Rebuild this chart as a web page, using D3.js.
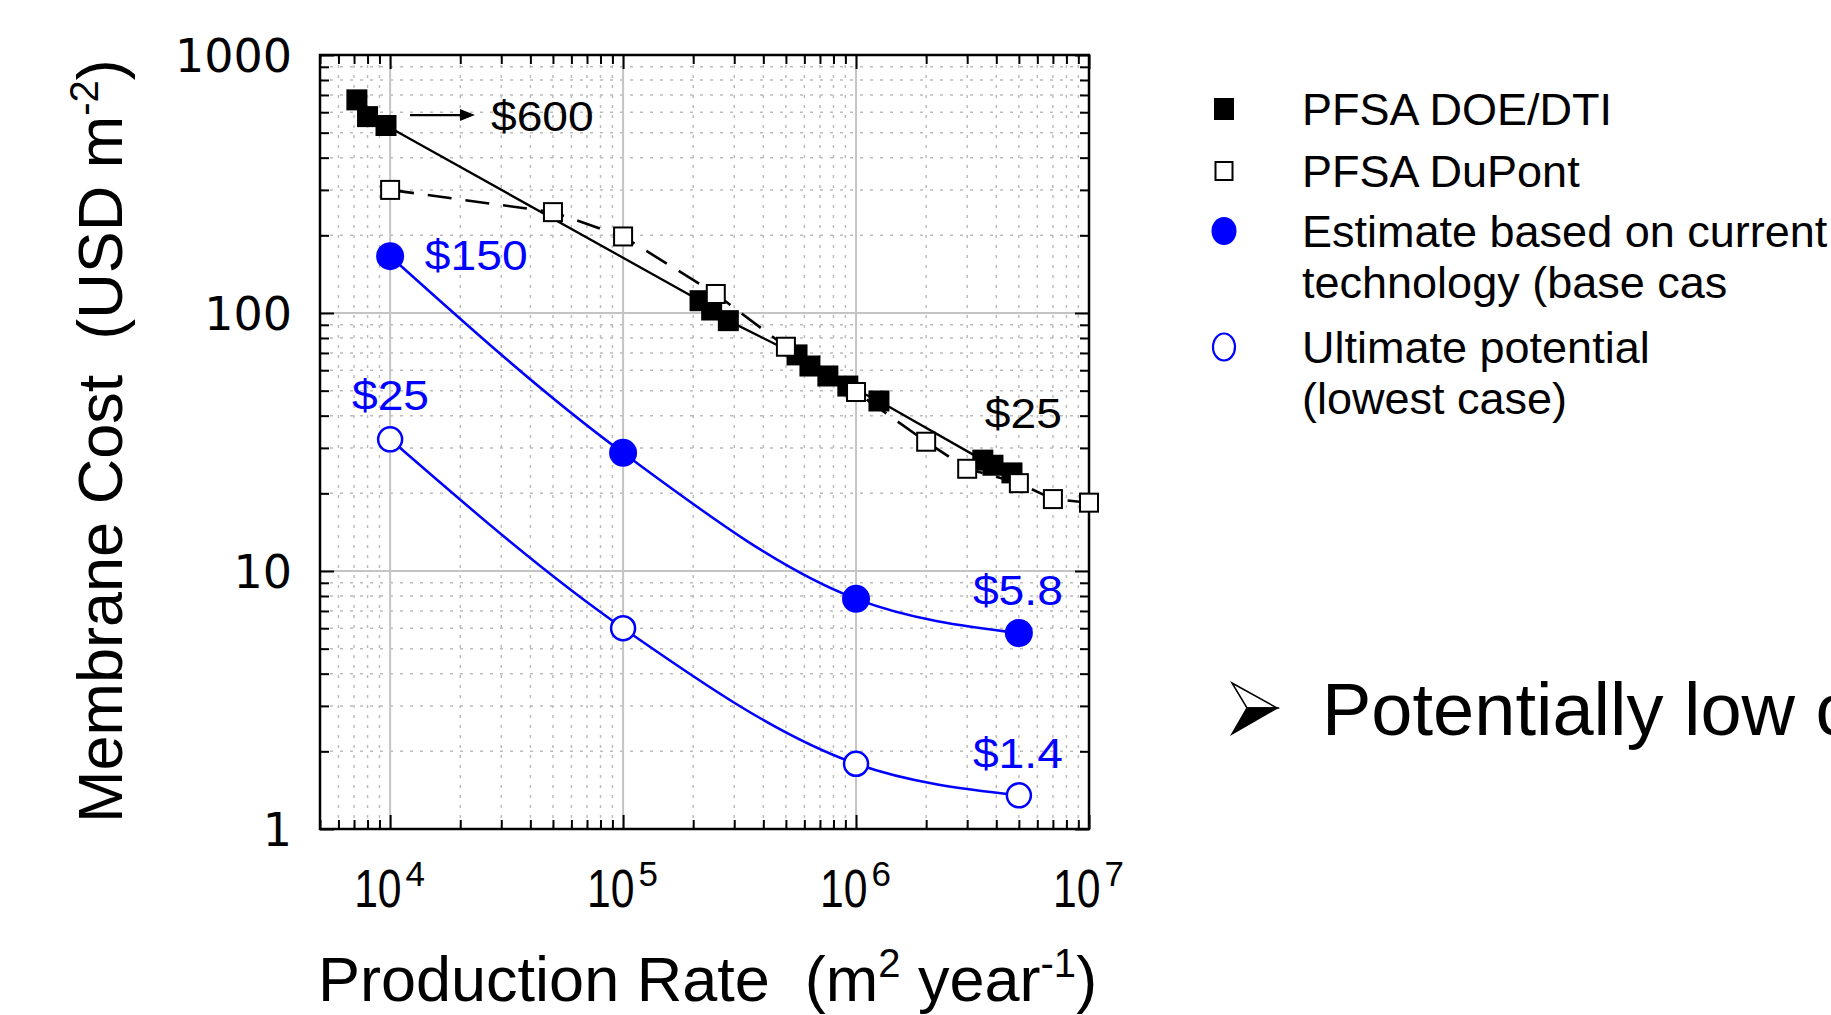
<!DOCTYPE html>
<html><head><meta charset="utf-8">
<script src="https://cdn.jsdelivr.net/npm/d3@7"></script>
<style>
html,body{margin:0;padding:0;background:#fff;overflow:hidden}
svg{display:block}
text{font-family:"Liberation Sans",Arial,sans-serif;white-space:pre}
</style></head><body>
<svg id="chart" width="1831" height="1015"></svg>
<script>
// ---------------- data ----------------
const xMajorTicks = [1e4, 1e5, 1e6, 1e7];
const xTickBase = "10";
const xTickExponents = ["4", "5", "6", "7"];
const yMajorTicks = [1, 10, 100, 1000];
const yTickLabels = ["1", "10", "100", "1000"];

// PFSA DOE/DTI (filled squares)
const doeRate = [7200, 8000, 9600, 214000, 240000, 283000, 558000, 634000, 757000, 922000, 1254000, 3500000, 3870000, 4670000];
const doeCost = [670, 577, 533, 111.6, 102.7, 93.4, 68.8, 62.3, 57.0, 52.1, 45.6, 26.9, 25.7, 24.0];

// PFSA DuPont (open squares)
const dupontRate = [1e4, 5e4, 1e5, 2.5e5, 5e5, 1e6, 2e6, 3e6, 5e6, 7e6, 1e7];
const dupontCost = [300, 246, 198, 118.5, 74, 49.4, 31.7, 24.9, 21.9, 19.0, 18.4];

// Estimate based on current technology (filled blue circles)
const estimateRate = [1e4, 1e5, 1e6, 5e6];
const estimateCost = [166, 28.7, 7.8, 5.75];

// Ultimate potential (open blue circles)
const ultimateRate = [1e4, 1e5, 1e6, 5e6];
const ultimateCost = [32.4, 6.0, 1.79, 1.35];

// annotation labels: text, data-anchor (left edge, baseline), colour key
const noteTexts = ["$600", "$150", "$25", "$25", "$5.8", "$1.4"];
const noteRate = [27100, 14100, 6860, 3570000, 3175000, 3175000];
const noteCost = [507, 147, 42.1, 35.8, 7.38, 1.72];
const noteKind = ["black", "blue", "blue", "black", "blue", "blue"];

// arrow for $600 label
const arrowRate = [12170, 23120];
const arrowCost = [585, 585];

const legendLabels = [["PFSA DOE/DTI"], ["PFSA DuPont"], ["Estimate based on current", "technology (base cas"], ["Ultimate potential", "(lowest case)"]];
const legendKinds = ["filledSquare", "openSquare", "filledCircle", "openCircle"];

const yTitleParts = ["Membrane Cost  (USD m", "-2", ")"];
const xTitleParts = ["Production Rate  (m", "2", " year", "-1", ")"];
const bulletText = "Potentially low cost";

// ---------------- drawing ----------------
const W = 1831, H = 1015;
const BLUE = "#0000ff";
const svg = d3.select("#chart");
svg.append("rect").attr("width", W).attr("height", H).attr("fill", "#fff");

const x = d3.scaleLog().domain([5000, 1e7]).range([320, 1089]);
const y = d3.scaleLog().domain([1, 1000]).range([829, 55]);
const [x0, x1] = x.range();
const [y0, y1] = y.range();

const isMajor = v => Math.abs(Math.log10(v) - Math.round(Math.log10(v))) < 1e-9;
const xMinor = x.ticks().filter(v => !isMajor(v));
const yMinor = y.ticks().filter(v => !isMajor(v));

// minor grid (dotted)
const grid = svg.append("g");
grid.selectAll(".gxm").data(xMinor).join("line")
  .attr("x1", d => x(d)).attr("x2", d => x(d)).attr("y1", y1).attr("y2", y0)
  .attr("stroke", "#bcbcbc").attr("stroke-width", 1.5).attr("stroke-dasharray", "3,7");
grid.selectAll(".gym").data(yMinor).join("line")
  .attr("y1", d => y(d)).attr("y2", d => y(d)).attr("x1", x0).attr("x2", x1)
  .attr("stroke", "#bcbcbc").attr("stroke-width", 1.5).attr("stroke-dasharray", "3,7");
// major grid
grid.selectAll(".gxM").data(xMajorTicks).join("line")
  .attr("x1", d => x(d)).attr("x2", d => x(d)).attr("y1", y1).attr("y2", y0)
  .attr("stroke", "#c4c4c4").attr("stroke-width", 2);
grid.selectAll(".gyM").data(yMajorTicks).join("line")
  .attr("y1", d => y(d)).attr("y2", d => y(d)).attr("x1", x0).attr("x2", x1)
  .attr("stroke", "#c4c4c4").attr("stroke-width", 2);

// ticks via d3 axes (inward, on all four sides)
function axisTicks(axisFn, scale, vals, size, tx, ty) {
  const g = svg.append("g").attr("transform", `translate(${tx},${ty})`)
    .call(axisFn(scale).tickValues(vals).tickSize(-size).tickFormat(""));
  g.select(".domain").remove();
  g.selectAll(".tick line").attr("stroke", "#000").attr("stroke-width", 2);
}
[[xMajorTicks, 14], [xMinor, 9]].forEach(([v, s]) => {
  axisTicks(d3.axisBottom, x, v, s, 0, y0);
  axisTicks(d3.axisTop, x, v, s, 0, y1);
});
[[yMajorTicks, 14], [yMinor, 9]].forEach(([v, s]) => {
  axisTicks(d3.axisLeft, y, v, s, x0, 0);
  axisTicks(d3.axisRight, y, v, s, x1, 0);
});
// frame
svg.append("rect").attr("x", x0).attr("y", y1).attr("width", x1 - x0).attr("height", y0 - y1)
  .attr("fill", "none").attr("stroke", "#000").attr("stroke-width", 2.5);

// y tick labels
svg.append("g").selectAll("text").data(yMajorTicks).join("text")
  .attr("x", x0 - 28).attr("y", d => y(d)).attr("dy", "0.36em")
  .attr("text-anchor", "end").style("font-family", "'DejaVu Sans',Verdana,sans-serif")
  .attr("font-size", 46).attr("fill", "#000").text((d, i) => yTickLabels[i]);

// x tick labels (10^n): condensed base + exponent
const xl = svg.append("g");
xMajorTicks.forEach((v, i) => {
  const sx = 0.79;
  const b = xl.append("text").attr("transform", `translate(${x(v) - 36},907) scale(${sx},1)`)
    .attr("font-size", 54).attr("fill", "#000").text(xTickBase);
  const w = b.node().getComputedTextLength() * sx;
  xl.append("text").attr("x", x(v) - 36 + w + 4).attr("y", 886)
    .attr("font-size", 35).attr("fill", "#000").text(xTickExponents[i]);
});

// axis titles
const xt = svg.append("text").attr("x", 318).attr("y", 1001).attr("font-size", 63).attr("fill", "#000");
xt.append("tspan").text(xTitleParts[0]);
xt.append("tspan").attr("dy", -24).attr("font-size", 40).text(xTitleParts[1]);
xt.append("tspan").attr("dy", 24).text(xTitleParts[2]);
xt.append("tspan").attr("dy", -24).attr("font-size", 40).text(xTitleParts[3]);
xt.append("tspan").attr("dy", 24).text(xTitleParts[4]);

const yt = svg.append("text").attr("transform", "translate(122,823) rotate(-90)")
  .attr("font-size", 63).attr("fill", "#000");
yt.append("tspan").text(yTitleParts[0]);
yt.append("tspan").attr("dy", -24).attr("font-size", 40).text(yTitleParts[1]);
yt.append("tspan").attr("dy", 24).text(yTitleParts[2]);

// lines
const pts = (r, c) => r.map((v, i) => [x(v), y(c[i])]);
svg.append("path").attr("d", d3.line()(pts(doeRate, doeCost)))
  .attr("fill", "none").attr("stroke", "#000").attr("stroke-width", 2.3);
svg.append("path").attr("d", d3.line()(pts(dupontRate, dupontCost)))
  .attr("fill", "none").attr("stroke", "#000").attr("stroke-width", 2.6).attr("stroke-dasharray", "24,14");
svg.append("path").attr("d", d3.line().curve(d3.curveMonotoneX)(pts(estimateRate, estimateCost)))
  .attr("fill", "none").attr("stroke", BLUE).attr("stroke-width", 2.5);
svg.append("path").attr("d", d3.line().curve(d3.curveMonotoneX)(pts(ultimateRate, ultimateCost)))
  .attr("fill", "none").attr("stroke", BLUE).attr("stroke-width", 2.5);

// markers
svg.append("g").selectAll("rect").data(pts(doeRate, doeCost)).join("rect")
  .attr("x", d => d[0] - 10.5).attr("y", d => d[1] - 10.5).attr("width", 21).attr("height", 21).attr("fill", "#000");
svg.append("g").selectAll("rect").data(pts(dupontRate, dupontCost)).join("rect")
  .attr("x", d => d[0] - 9).attr("y", d => d[1] - 9).attr("width", 18).attr("height", 18)
  .attr("fill", "#fff").attr("stroke", "#000").attr("stroke-width", 2);
svg.append("g").selectAll("circle").data(pts(estimateRate, estimateCost)).join("circle")
  .attr("cx", d => d[0]).attr("cy", d => d[1]).attr("r", 14).attr("fill", BLUE);
svg.append("g").selectAll("circle").data(pts(ultimateRate, ultimateCost)).join("circle")
  .attr("cx", d => d[0]).attr("cy", d => d[1]).attr("r", 12).attr("fill", "#fff").attr("stroke", BLUE).attr("stroke-width", 2.5);

// annotations
noteTexts.forEach((s, i) => {
  const t = svg.append("text").attr("x", x(noteRate[i])).attr("y", y(noteCost[i]))
    .attr("font-size", 42).attr("fill", noteKind[i] === "blue" ? BLUE : "#000").text(s);
  const w = t.node().getComputedTextLength();
  t.attr("textLength", w * 1.1).attr("lengthAdjust", "spacingAndGlyphs");
});
// arrow
const ax0 = x(arrowRate[0]), ax1 = x(arrowRate[1]), ay = y(arrowCost[0]);
svg.append("line").attr("x1", ax0).attr("x2", ax1 - 12).attr("y1", ay).attr("y2", ay)
  .attr("stroke", "#000").attr("stroke-width", 2.2);
svg.append("path").attr("d", `M${ax1},${ay} L${ax1 - 15},${ay - 6} L${ax1 - 15},${ay + 6} Z`).attr("fill", "#000");

// legend
const lg = svg.append("g");
const legX = 1224, legTextX = 1302, rowBase = [125, 187, 247, 363], lineH = 51;
legendLabels.forEach((lines, i) => {
  const cy = rowBase[i] - 16;
  const k = legendKinds[i];
  if (k === "filledSquare") lg.append("rect").attr("x", legX - 10).attr("y", cy - 11).attr("width", 20).attr("height", 22).attr("fill", "#000");
  if (k === "openSquare") lg.append("rect").attr("x", legX - 8.5).attr("y", cy - 9).attr("width", 17).attr("height", 18).attr("fill", "#fff").attr("stroke", "#000").attr("stroke-width", 2);
  if (k === "filledCircle") lg.append("ellipse").attr("cx", legX).attr("cy", cy).attr("rx", 12.5).attr("ry", 14).attr("fill", BLUE);
  if (k === "openCircle") lg.append("ellipse").attr("cx", legX).attr("cy", cy).attr("rx", 11).attr("ry", 13.5).attr("fill", "#fff").attr("stroke", BLUE).attr("stroke-width", 2.2);
  lines.forEach((s, j) => {
    lg.append("text").attr("x", legTextX).attr("y", rowBase[i] + j * lineH)
      .attr("font-size", 45).attr("fill", "#000").text(s);
  });
});

// bullet arrowhead + text
const bx = 1232, by = 708;
svg.append("path").attr("d", `M${bx},${by - 25} L${bx + 45},${by} L${bx + 15},${by} Z`)
  .attr("fill", "#fff").attr("stroke", "#000").attr("stroke-width", 1.5).attr("stroke-linejoin", "miter");
svg.append("path").attr("d", `M${bx + 45},${by} L${bx},${by + 26} L${bx + 15},${by} Z`)
  .attr("fill", "#000").attr("stroke", "#000").attr("stroke-width", 1.5);
svg.append("text").attr("x", 1322).attr("y", 735).attr("font-size", 74).attr("fill", "#000").text(bulletText);
</script>
</body></html>
